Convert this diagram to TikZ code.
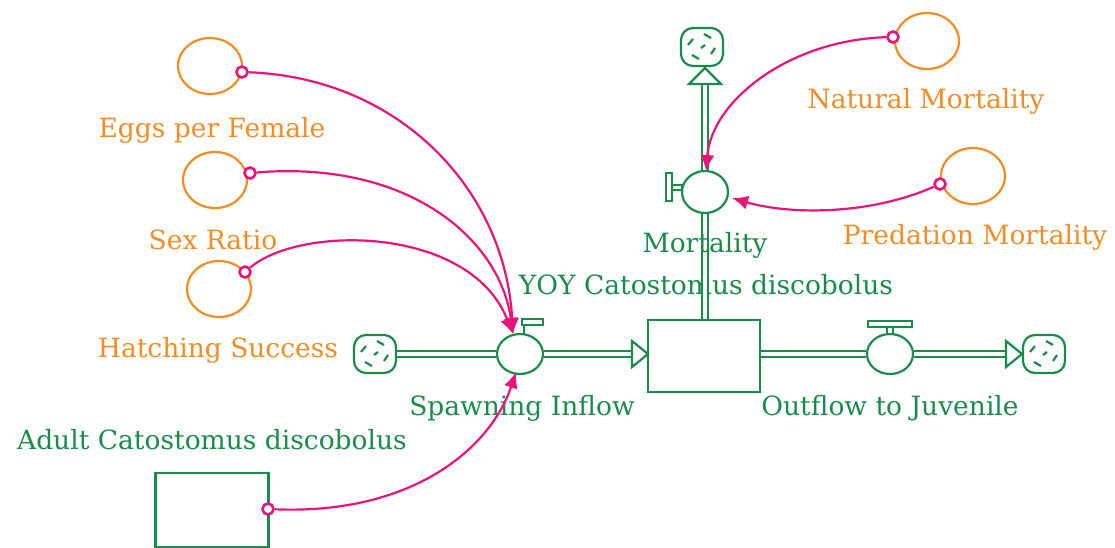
\documentclass[tikz,border=0pt]{standalone}
\usepackage{fontspec}
\setmainfont{DejaVu Serif}
\usetikzlibrary{shapes.geometric,arrows.meta,calc}
\definecolor{vgreen}{RGB}{25,140,75}
\definecolor{vorange}{RGB}{242,140,35}
\definecolor{vmag}{RGB}{232,20,120}
\begin{document}
\begin{tikzpicture}[x=1pt,y=-1pt,
  lbl/.style={font=\fontsize{26.5}{30}\selectfont, inner sep=0, anchor=center},
  glbl/.style={lbl,text=vgreen},
  olbl/.style={lbl,text=vorange},
  conv/.style={draw=vorange, line width=2.2pt, ellipse, minimum width=64pt, minimum height=56pt, inner sep=0},
  stockbox/.style={draw=vgreen, line width=2.6pt, rectangle, inner sep=0},
  valve/.style={draw=vgreen, line width=2.2pt, ellipse, minimum width=46pt, minimum height=40pt, inner sep=0, fill=white},
  pipe/.style={draw=vgreen, double=white, double distance=4pt, line width=2.2pt},
  handle/.style={draw=vgreen, line width=2.2pt, fill=white},
  pipetip/.style={draw=vgreen, line width=2.2pt, fill=white},
  link/.style={draw=vmag, line width=2.2pt, -{Latex[length=16pt,width=14pt]}},
  dot/.style={draw=vmag, line width=2.6pt, circle, minimum size=11pt, inner sep=0, fill=white},
  cloudnode/.style={draw=vgreen, line width=2.2pt, rounded corners=12pt, minimum width=42pt, minimum height=38pt, inner sep=0, fill=white,
    path picture={
      \draw[vgreen, line width=2.2pt]
        ([shift={(-14,-2)}]path picture bounding box.center) -- ++(5,-6)
        ([shift={(2,-13)}]path picture bounding box.center) -- ++(7,4)
        ([shift={(13,1)}]path picture bounding box.center) -- ++(-4,6)
        ([shift={(-3,12)}]path picture bounding box.center) -- ++(-7,-4)
        ([shift={(-1,1)}]path picture bounding box.center) -- ++(4,-3);
    }},
]
\useasboundingbox (0,0) rectangle (1115,548);

% stocks
\node[stockbox, minimum width=112pt, minimum height=72pt] (yoy) at (704,356) {};
\node[stockbox, minimum width=113pt, minimum height=74pt] (adult) at (212,510) {};
\node[glbl] (yoylbl) at (706,285) {YOY Catostomus discobolus};
\node[glbl] (adultlbl) at (212,440) {Adult Catostomus discobolus};

% clouds
\node[cloudnode] (c1) at (375,354) {};
\node[cloudnode] (c2) at (1044,354) {};
\node[cloudnode] (c3) at (702,47) {};

% spawning inflow
\node[valve] (v1) at (520,354) {};
\draw[pipe] (c1.east) -- (v1.west);
\draw[pipe] (v1.east) -- (632,354);
\draw[pipetip] (632,341) -- (648,354) -- (632,367) -- cycle;
\draw[handle] (524,334) -- (524,322);
\draw[handle] (522,319) rectangle (543,325);
\node[glbl] (v1lbl) at (522,408) {Spawning Inflow};

% outflow
\node[valve] (v2) at (890,354) {};
\draw[pipe] (yoy.east |- 0,354) -- (v2.west);
\draw[pipe] (v2.east) -- (1006,354);
\draw[pipetip] (1006,341) -- (1022,354) -- (1006,367) -- cycle;
\draw[handle] (887,326) rectangle (893,334);
\draw[handle] (868,321) rectangle (912,327);
\node[glbl] (v2lbl) at (890,408) {Outflow to Juvenile};

% mortality
\node[valve, minimum width=46pt, minimum height=42pt] (v3) at (705,192) {};
\draw[pipe] (yoy.north -| 705,0) -- (v3.south);
\draw[pipe] (v3.north) -- (705,84);
\draw[pipetip] (689,84) -- (705,68) -- (721,84) -- cycle;
\draw[handle] (672,185) rectangle (682,190);
\draw[handle] (666,173) rectangle (672,201);
\node[glbl] (v3lbl) at (705,245) {Mortality};

% converters
\node[conv] (eggs) at (210,66) {};
\node[olbl] (eggslbl) at (212,130) {Eggs per Female};
\node[conv] (sex) at (215,180) {};
\node[olbl] (sexlbl) at (213,240) {Sex Ratio};
\node[conv] (hatch) at (219,289) {};
\node[olbl] (hatchlbl) at (218,350) {Hatching Success};
\node[conv] (nat) at (927,41) {};
\node[olbl] (natlbl) at (926,101) {Natural Mortality};
\node[conv] (pred) at (973,176) {};
\node[olbl] (predlbl) at (975,237) {Predation Mortality};

% connector origins
\node[dot] (d1) at (242,72) {};
\node[dot] (d2) at (250,173) {};
\node[dot] (d3) at (245,272) {};
\node[dot] (d4) at (268,509) {};
\node[dot] (d5) at (893,37) {};
\node[dot] (d6) at (940,184) {};

% connectors
\draw[link] (d1) .. controls (400,78) and (505,190) .. (513,334);
\draw[link] (d2) .. controls (410,160) and (500,240) .. (513,334);
\draw[link] (d3) .. controls (300,225) and (470,225) .. (513,334);
\draw[link] (d4) .. controls (410,515) and (490,450) .. (516,372);
\draw[link] (d5) .. controls (790,40) and (712,100) .. (706,171);
\draw[link] (d6) .. controls (870,215) and (790,215) .. (732,198);
\end{tikzpicture}
\end{document}
